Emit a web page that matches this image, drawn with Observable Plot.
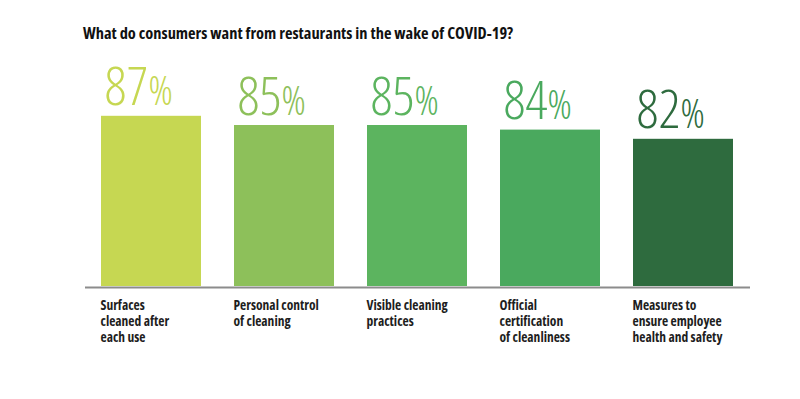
<!DOCTYPE html>
<html><head><meta charset="utf-8">
<script src="https://cdn.jsdelivr.net/npm/d3@7"></script>
<script src="https://cdn.jsdelivr.net/npm/@observablehq/plot@0.6"></script>
<style>
body{margin:0;background:#fff;}
#title{position:relative;height:50px;}
#title span{position:absolute;left:83px;top:23px;font-family:'Open Sans',sans-serif;font-weight:700;font-stretch:75%;font-size:16.4px;color:#111;white-space:nowrap;line-height:20px;}
#chart svg text{font-stretch:75%;}
</style></head>
<body>
<div id="title"><span>What do consumers want from restaurants in the wake of COVID-19?</span></div>
<div id="chart"></div>
<script>
const categories = [
  "Surfaces\ncleaned after\neach use",
  "Personal control\nof cleaning",
  "Visible cleaning\npractices",
  "Official\ncertification\nof cleanliness",
  "Measures to\nensure employee\nhealth and safety"
];
const values = [87, 85, 85, 84, 82];
const colors = ["#c6d752", "#8dc05a", "#5cb45f", "#4aa95e", "#2e6b3e"];

const data = categories.map((c, i) => ({cat: c, value: values[i]}));
const font = "'Open Sans', sans-serif";

const chart = Plot.plot({
  width: 800,
  height: 349,
  marginTop: 6,
  marginBottom: 113,
  marginLeft: 68,
  marginRight: 34,
  x: {domain: categories, padding: 0.248, axis: null},
  y: {domain: [50, 100], axis: null},
  color: {domain: categories, range: colors},
  style: {fontFamily: font, background: "#fff"},
  marks: [
    Plot.barY(data, {x: "cat", y1: 50, y2: "value", fill: "cat"}),
    Plot.ruleY([50], {stroke: "#8c8c8c", strokeWidth: 2, insetLeft: 17, insetRight: 16, dy: 1}),
    Plot.text(data, {x: "cat", y: "value", text: d => String(d.value), fill: "cat",
      textAnchor: "end", dx: -3, dy: -11, lineAnchor: "bottom",
      fontSize: 54, fontWeight: 300, fontFamily: font}),
    Plot.text(data, {x: "cat", y: "value", text: () => "%", fill: "cat",
      textAnchor: "start", dx: -3, dy: -11, lineAnchor: "bottom",
      fontSize: 40, fontWeight: 300, fontFamily: font}),
    Plot.text(data, {x: "cat", y: 50, text: "cat", fill: "#1e1e1e",
      textAnchor: "start", dx: -51, dy: 12, lineAnchor: "top", lineHeight: 1.2,
      fontSize: 13.5, fontWeight: 700, fontFamily: font})
  ]
});
document.getElementById("chart").appendChild(chart);
</script>
</body></html>
